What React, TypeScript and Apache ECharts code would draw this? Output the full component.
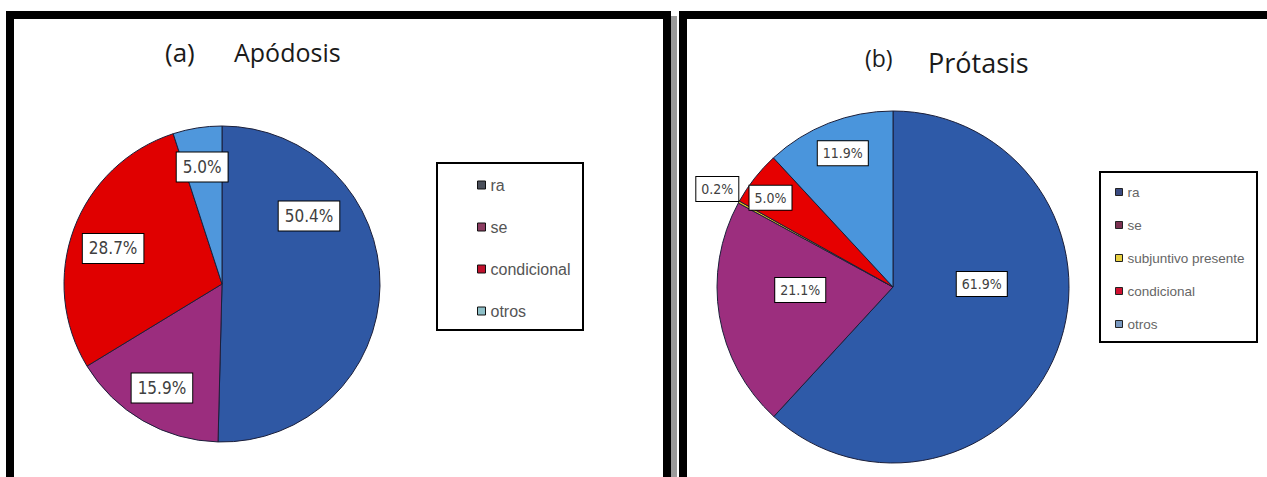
import React, { useEffect, useRef } from "react";
import * as echarts from "echarts";

// ---- data ----
const namesA = ["ra", "se", "condicional", "otros"];
const valuesA = [50.4, 15.9, 28.7, 5.0];
const namesB = ["ra", "se", "subjuntivo presente", "condicional", "otros"];
const valuesB = [61.9, 21.1, 0.2, 5.0, 11.9];
const titleA = ["(a)", "Apódosis"];
const titleB = ["(b)", "Prótasis"];

// ---- styles ----
const colorsA = ["#2f58a4", "#9b2d7e", "#e00000", "#4f97dc"];
const colorsB = ["#2e5aa8", "#9c2e7e", "#e8c61e", "#e60000", "#4a95dc"];
const legendColorsA = ["#4a4f5a", "#8c3d62", "#c0102c", "#8ec0c8"];
const legendColorsB = ["#3a4a80", "#7a3050", "#e8d040", "#d01030", "#7898c0"];
const labelShiftA = [[5, -69], [-19, 33], [-32, -7], [-7, -36]];
const labelShiftB = [[4, -36], [-3, -12], [-96, -54], [-51, -33], [-17, -49]];

const labelFont = "'Liberation Sans Narrow', 'DejaVu Sans Condensed', 'Open Sans', sans-serif";
const legendFont = "'Liberation Sans', Arial, sans-serif";
const titleFont = "'Open Sans', 'Noto Sans', sans-serif";

export default function App() {
  const ref = useRef<HTMLDivElement>(null);
  useEffect(() => {
    if (!ref.current) return;
    const chart = echarts.init(ref.current, undefined, { renderer: "svg" });

    const mkLabel = (fontSize: number, padding: number[]) => ({
      show: true,
      position: "inside",
      formatter: (p: any) => `${Number(p.value).toFixed(1)}%`,
      color: "#404040",
      fontFamily: labelFont,
      fontSize,
      backgroundColor: "#ffffff",
      borderColor: "#000000",
      borderWidth: 1,
      padding,
    });

    const black = { fill: "#000" };
    const option: any = {
      animation: false,
      backgroundColor: "#ffffff",
      legend: [
        {
          orient: "vertical",
          left: 472,
          top: 172,
          itemWidth: 8,
          itemHeight: 8,
          itemGap: 26,
          icon: "rect",
          selectedMode: false,
          textStyle: { fontFamily: legendFont, fontSize: 16, color: "#555" },
          data: namesA.map((n, i) => ({
            name: n,
            itemStyle: { color: legendColorsA[i], borderColor: "#111", borderWidth: 1 },
          })),
        },
        {
          orient: "vertical",
          left: 1110,
          top: 180,
          itemWidth: 7,
          itemHeight: 7,
          itemGap: 19,
          icon: "rect",
          selectedMode: false,
          textStyle: { fontFamily: legendFont, fontSize: 13.5, color: "#666" },
          data: namesB.map((n, i) => ({
            name: n,
            itemStyle: { color: legendColorsB[i], borderColor: "#222", borderWidth: 1 },
          })),
        },
      ],
      graphic: [
        // left frame
        { type: "rect", shape: { x: 6, y: 11, width: 665, height: 8 }, style: black, z: 10 },
        { type: "rect", shape: { x: 6, y: 11, width: 8, height: 466 }, style: black, z: 10 },
        { type: "rect", shape: { x: 663, y: 11, width: 8, height: 466 }, style: black, z: 10 },
        { type: "rect", shape: { x: 671, y: 16, width: 6, height: 461 }, style: { fill: "#9a9a9a" }, z: 10 },
        // right frame
        { type: "rect", shape: { x: 679, y: 11, width: 600, height: 8 }, style: black, z: 10 },
        { type: "rect", shape: { x: 679, y: 11, width: 8, height: 466 }, style: black, z: 10 },
        // legend boxes
        { type: "rect", shape: { x: 437, y: 163, width: 146, height: 167 }, style: { fill: "transparent", stroke: "#000", lineWidth: 2 }, z: 10 },
        { type: "rect", shape: { x: 1100, y: 172, width: 157, height: 170 }, style: { fill: "transparent", stroke: "#000", lineWidth: 2 }, z: 10 },
        // titles
        { type: "text", x: 165, y: 52, style: { text: titleA[0], fontFamily: titleFont, fontSize: 26, fill: "#1a1a1a", textVerticalAlign: "middle" }, z: 10 },
        { type: "text", x: 234, y: 52, style: { text: titleA[1], fontFamily: titleFont, fontSize: 25, fill: "#1a1a1a", textVerticalAlign: "middle" }, z: 10 },
        { type: "text", x: 865, y: 58, style: { text: titleB[0], fontFamily: titleFont, fontSize: 23, fill: "#1a1a1a", textVerticalAlign: "middle" }, z: 10 },
        { type: "text", x: 928, y: 62, style: { text: titleB[1], fontFamily: titleFont, fontSize: 27, fill: "#1a1a1a", textVerticalAlign: "middle" }, z: 10 },
      ],
      series: [
        {
          type: "pie",
          center: [222, 284],
          radius: 158,
          startAngle: 90,
          clockwise: true,
          avoidLabelOverlap: false,
          itemStyle: { borderColor: "#1b1f3a", borderWidth: 1 },
          label: mkLabel(17, [6, 6]),
          labelLine: { show: false },
          labelLayout: (p: any) => ({ dx: labelShiftA[p.dataIndex][0], dy: labelShiftA[p.dataIndex][1] }),
          emphasis: { disabled: true },
          data: namesA.map((n, i) => ({ name: n, value: valuesA[i], itemStyle: { color: colorsA[i] } })),
        },
        {
          type: "pie",
          center: [893, 287],
          radius: 176,
          startAngle: 90,
          clockwise: true,
          avoidLabelOverlap: false,
          itemStyle: { borderColor: "#1b1f3a", borderWidth: 1 },
          label: mkLabel(14, [5, 5]),
          labelLine: { show: false },
          labelLayout: (p: any) => ({ dx: labelShiftB[p.dataIndex][0], dy: labelShiftB[p.dataIndex][1] }),
          emphasis: { disabled: true },
          data: namesB.map((n, i) => ({ name: n, value: valuesB[i], itemStyle: { color: colorsB[i] } })),
        },
      ],
    };
    chart.setOption(option);
    return () => chart.dispose();
  }, []);
  return (
    <div
      ref={ref}
      style={{ position: "absolute", left: 0, top: 0, width: 1267, height: 477, background: "#fff" }}
    />
  );
}
